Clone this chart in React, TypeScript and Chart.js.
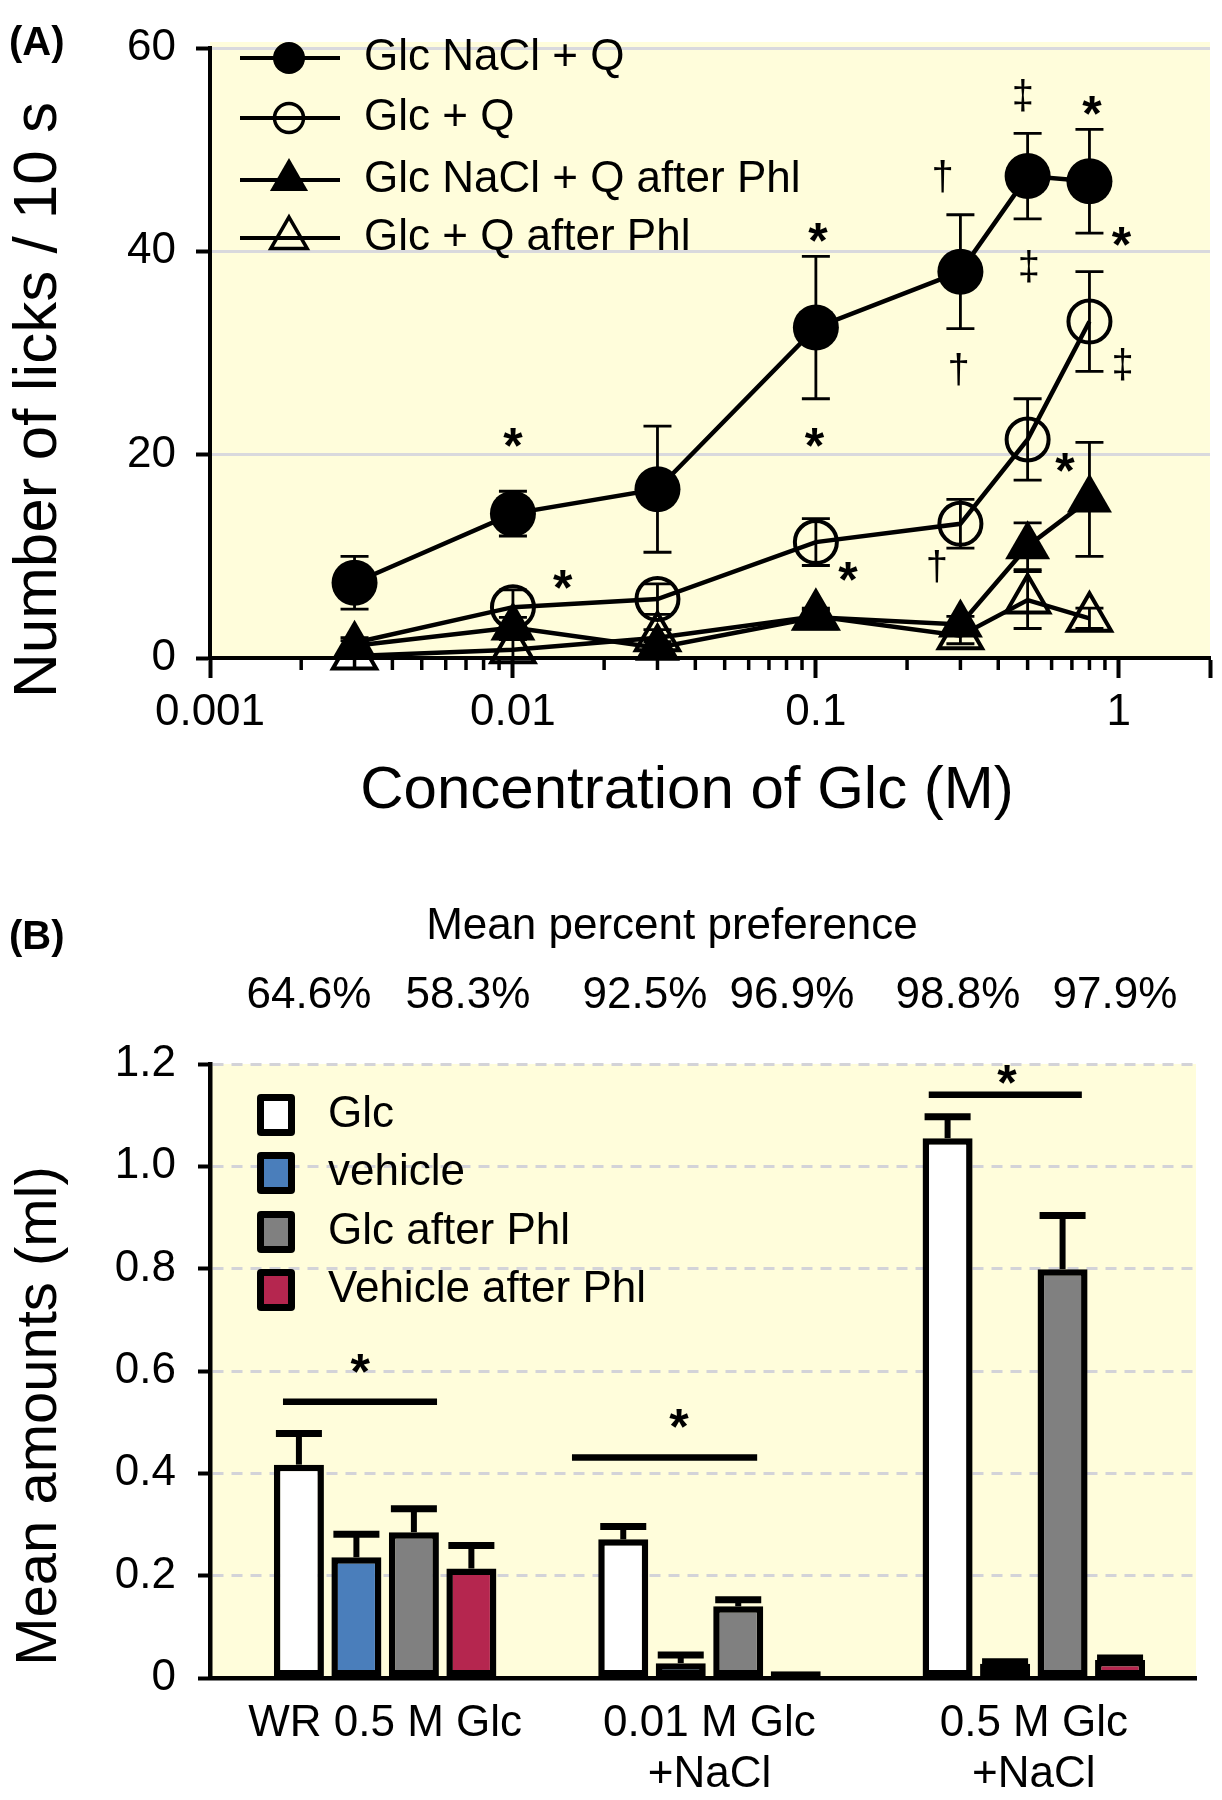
import React, { useEffect, useRef } from 'react';
import { Chart, registerables } from 'chart.js';

Chart.register(...registerables);

const FONT = "'Liberation Sans', Arial, Helvetica, sans-serif";
const YELLOW = '#FFFDDB';

// ---------------- Panel A data ----------------
const concentrations = [0.003, 0.01, 0.03, 0.1, 0.3, 0.5, 0.8];
const glcNaClQ = [7.4, 14.2, 16.6, 32.5, 38.0, 47.4, 46.9];
const glcNaClQErr = [2.6, 2.2, 6.2, 7.0, 5.6, 4.2, 5.1];
const glcQ = [1.5, 5.0, 5.8, 11.4, 13.2, 21.5, 33.1];
const glcQErr = [0.5, 1.7, 1.5, 2.3, 2.4, 4.0, 4.9];
const glcNaClQPhl = [1.2, 3.0, 1.0, 4.0, 3.3, 11.0, 15.6];
const glcNaClQPhlErr = [0.5, 1.0, 0.6, 0.7, 0.8, 2.3, 5.6];
const glcQPhl = [0.2, 0.8, 2.0, 4.1, 2.2, 5.7, 3.9];
const glcQPhlErr = [0.3, 1.0, 0.8, 0.8, 0.8, 2.8, 1.0];
const seriesLabelsA = ['Glc NaCl + Q', 'Glc + Q', 'Glc NaCl + Q after Phl', 'Glc + Q after Phl'];

const xMajorTicksA = [0.001, 0.01, 0.1, 1, 2];
const xTickLabelsA = ['0.001', '0.01', '0.1', '1', ''];
const xMinorTicksA = [
  0.002, 0.003, 0.004, 0.005, 0.006, 0.007, 0.008, 0.009,
  0.02, 0.03, 0.04, 0.05, 0.06, 0.07, 0.08, 0.09,
  0.2, 0.3, 0.4, 0.5, 0.6, 0.7, 0.8, 0.9,
];
const yTicksA = [0, 20, 40, 60];
const yTickLabelsA = ['0', '20', '40', '60'];

const annotationsA = [
  { text: '*', x: 0.01, y: 20.3 },
  { text: '*', x: 0.0146, y: 7.7 },
  { text: '*', x: 0.1016, y: 41.9 },
  { text: '*', x: 0.099, y: 21.7 },
  { text: '*', x: 0.1276, y: 8.5 },
  { text: '\u2020', x: 0.262, y: 47.4 },
  { text: '\u2020', x: 0.296, y: 28.4 },
  { text: '\u2020', x: 0.251, y: 9.0 },
  { text: '\u2021', x: 0.482, y: 55.3 },
  { text: '\u2021', x: 0.505, y: 38.5 },
  { text: '*', x: 0.815, y: 54.3 },
  { text: '*', x: 1.02, y: 41.5 },
  { text: '\u2021', x: 1.03, y: 28.9 },
  { text: '*', x: 0.664, y: 19.2 },
];

// ---------------- Panel B data ----------------
const categoriesB = [['WR 0.5 M Glc'], ['0.01 M Glc', '+NaCl'], ['0.5 M Glc', '+NaCl']];
const seriesLabelsB = ['Glc', 'vehicle', 'Glc after Phl', 'Vehicle after Phl'];
const glcB = [0.417, 0.271, 1.055];
const glcBErr = [0.061, 0.025, 0.042];
const vehicleB = [0.236, 0.029, 0.028];
const vehicleBErr = [0.045, 0.016, 0.004];
const glcPhlB = [0.285, 0.14, 0.799];
const glcPhlBErr = [0.046, 0.013, 0.105];
const vehiclePhlB = [0.214, 0.013, 0.035];
const vehiclePhlBErr = [0.045, 0.0, 0.004];
const percentPreference = ['64.6%', '58.3%', '92.5%', '96.9%', '98.8%', '97.9%'];
const yTicksB = [0, 0.2, 0.4, 0.6, 0.8, 1.0, 1.2];
const yTickLabelsB = ['0', '0.2', '0.4', '0.6', '0.8', '1.0', '1.2'];
const significanceB = [
  { group: 0, from: -0.315, to: 0.16, y: 0.54, starX: -0.077, starY: 0.614 },
  { group: 1, from: -0.424, to: 0.147, y: 0.431, starX: -0.094, starY: 0.507 },
  { group: 2, from: -0.324, to: 0.148, y: 1.14, starX: -0.083, starY: 1.179 },
];

// ---------------- helpers ----------------
function centerGlyph(ctx: any, text: string, x: number, y: number) {
  const m = ctx.measureText(text);
  ctx.textAlign = 'center';
  ctx.textBaseline = 'alphabetic';
  ctx.fillText(text, x, y + (m.actualBoundingBoxAscent - m.actualBoundingBoxDescent) / 2);
}

function markerPath(ctx: any, style: string, x: number, y: number, r: number) {
  ctx.beginPath();
  if (style === 'circle') {
    ctx.arc(x, y, r, 0, Math.PI * 2);
  } else {
    let rad = 0;
    ctx.moveTo(x + Math.sin(rad) * r, y - Math.cos(rad) * r);
    rad += (2 * Math.PI) / 3;
    ctx.lineTo(x + Math.sin(rad) * r, y - Math.cos(rad) * r);
    rad += (2 * Math.PI) / 3;
    ctx.lineTo(x + Math.sin(rad) * r, y - Math.cos(rad) * r);
    ctx.closePath();
  }
}

const seriesA = [
  { label: seriesLabelsA[0], values: glcNaClQ, errors: glcNaClQErr, style: 'circle', filled: true, r: 23, lr: 16, hideFirst: false },
  { label: seriesLabelsA[1], values: glcQ, errors: glcQErr, style: 'circle', filled: false, r: 21, lr: 14.5, hideFirst: true },
  { label: seriesLabelsA[2], values: glcNaClQPhl, errors: glcNaClQPhlErr, style: 'triangle', filled: true, r: 26, lr: 22, hideFirst: false },
  { label: seriesLabelsA[3], values: glcQPhl, errors: glcQPhlErr, style: 'triangle', filled: false, r: 25, lr: 21, hideFirst: false },
];

const seriesB = [
  { label: seriesLabelsB[0], values: glcB, errors: glcBErr, color: '#FFFFFF' },
  { label: seriesLabelsB[1], values: vehicleB, errors: vehicleBErr, color: '#4A7EBB' },
  { label: seriesLabelsB[2], values: glcPhlB, errors: glcPhlBErr, color: '#808080' },
  { label: seriesLabelsB[3], values: vehiclePhlB, errors: vehiclePhlBErr, color: '#B5264F' },
];

function zeroPad(s: any) {
  s.paddingLeft = 0;
  s.paddingRight = 0;
  s.paddingTop = 0;
  s.paddingBottom = 0;
}

function makeChartA(canvas: HTMLCanvasElement) {
  const plugin = {
    id: 'panelA',
    beforeDraw(chart: any) {
      const { ctx, chartArea: a } = chart;
      ctx.save();
      ctx.fillStyle = YELLOW;
      ctx.fillRect(a.left, a.top - 6, a.right - a.left, a.bottom - a.top + 6);
      ctx.restore();
    },
    beforeDatasetsDraw(chart: any) {
      const { ctx } = chart;
      const xs = chart.scales.x;
      const ys = chart.scales.y;
      ctx.save();
      ctx.strokeStyle = '#000';
      ctx.lineWidth = 2.8;
      seriesA.forEach((s) => {
        s.values.forEach((v, i) => {
          const e = s.errors[i];
          if (!e) return;
          const x = xs.getPixelForValue(concentrations[i]);
          const yt = ys.getPixelForValue(v + e);
          const yb = ys.getPixelForValue(Math.max(0, v - e));
          ctx.beginPath();
          ctx.moveTo(x, yt);
          ctx.lineTo(x, yb);
          ctx.moveTo(x - 14, yt);
          ctx.lineTo(x + 14, yt);
          ctx.moveTo(x - 14, yb);
          ctx.lineTo(x + 14, yb);
          ctx.stroke();
        });
      });
      ctx.restore();
    },
    afterDraw(chart: any) {
      const { ctx, chartArea: a } = chart;
      const xs = chart.scales.x;
      const ys = chart.scales.y;
      ctx.save();
      // minor ticks
      ctx.strokeStyle = '#000';
      ctx.lineWidth = 3.5;
      xMinorTicksA.forEach((t) => {
        const x = xs.getPixelForValue(t);
        ctx.beginPath();
        ctx.moveTo(x, a.bottom);
        ctx.lineTo(x, a.bottom + 12);
        ctx.stroke();
      });
      // legend
      const rows = [58, 118, 180, 238];
      seriesA.forEach((s, i) => {
        const y = rows[i];
        ctx.strokeStyle = '#000';
        ctx.lineWidth = 4;
        ctx.beginPath();
        ctx.moveTo(240, y);
        ctx.lineTo(340, y);
        ctx.stroke();
        markerPath(ctx, s.style, 289, y, s.lr);
        if (s.filled) {
          ctx.fillStyle = '#000';
          ctx.fill();
        } else {
          ctx.fillStyle = YELLOW;
          ctx.fill();
          ctx.lineWidth = 3.5;
          ctx.stroke();
          ctx.beginPath();
          ctx.lineWidth = 4;
          ctx.moveTo(289 - s.lr, y);
          ctx.lineTo(289 + s.lr, y);
          ctx.stroke();
        }
        ctx.fillStyle = '#000';
        ctx.font = `44px ${FONT}`;
        ctx.textAlign = 'left';
        ctx.textBaseline = 'middle';
        ctx.fillText(s.label, 364, y);
      });
      // annotations
      annotationsA.forEach((an) => {
        ctx.fillStyle = '#000';
        ctx.font = an.text === '*' ? `bold 50px ${FONT}` : `40px ${FONT}`;
        centerGlyph(ctx, an.text, xs.getPixelForValue(an.x), ys.getPixelForValue(an.y));
      });
      // panel label
      ctx.font = `bold 40px ${FONT}`;
      ctx.textAlign = 'left';
      ctx.textBaseline = 'middle';
      ctx.fillText('(A)', 9, 44);
      // axis titles
      ctx.font = `60px ${FONT}`;
      ctx.textAlign = 'center';
      ctx.textBaseline = 'alphabetic';
      ctx.fillText('Concentration of Glc (M)', 687, 808);
      ctx.font = `62px ${FONT}`;
      ctx.save();
      ctx.translate(56, 400);
      ctx.rotate(-Math.PI / 2);
      ctx.fillText('Number of licks / 10 s', 0, 0);
      ctx.restore();
      ctx.restore();
    },
  };

  const datasets = seriesA.map((s) => ({
    label: s.label,
    data: concentrations.map((c, i) => ({ x: c, y: s.values[i] })),
    borderColor: '#000',
    borderWidth: 4.5,
    tension: 0,
    fill: false,
    clip: false,
    pointStyle: s.style,
    pointRadius: concentrations.map((c, i) => (s.hideFirst && i === 0 ? 0 : s.r)),
    pointBackgroundColor: s.filled ? '#000' : 'rgba(0,0,0,0)',
    pointBorderColor: '#000',
    pointBorderWidth: s.filled ? 0 : 4,
  }));

  return new Chart(canvas, {
    type: 'line',
    data: { datasets } as any,
    plugins: [plugin as any],
    options: {
      animation: false,
      responsive: false,
      devicePixelRatio: 1,
      events: [],
      layout: { autoPadding: false, padding: { left: 0, right: 12, top: 48, bottom: 82 } },
      plugins: { legend: { display: false }, tooltip: { enabled: false } },
      scales: {
        x: {
          type: 'logarithmic',
          min: 0.001,
          max: 2,
          afterBuildTicks: (s: any) => {
            s.ticks = xMajorTicksA.map((v) => ({ value: v }));
          },
          afterFit: (s: any) => {
            s.height = 100;
            zeroPad(s);
          },
          ticks: {
            callback: (v: any) => {
              const i = xMajorTicksA.findIndex((t) => Math.abs(t - v) < t * 1e-6);
              return i >= 0 ? xTickLabelsA[i] : '';
            },
            font: { family: FONT, size: 44 },
            color: '#000',
            padding: 8,
            autoSkip: false,
            maxRotation: 0,
            minRotation: 0,
          },
          grid: { drawOnChartArea: false, drawTicks: true, tickLength: 20, tickWidth: 4, tickColor: '#000' },
          border: { display: true, color: '#000', width: 4 },
        },
        y: {
          type: 'linear',
          min: 0,
          max: 60,
          afterBuildTicks: (s: any) => {
            s.ticks = yTicksA.map((v) => ({ value: v }));
          },
          afterFit: (s: any) => {
            s.width = 210;
            zeroPad(s);
          },
          ticks: {
            callback: (v: any, i: number) => yTickLabelsA[i],
            font: { family: FONT, size: 44 },
            color: '#000',
            padding: 20,
          },
          grid: {
            color: (c: any) => (c.tick && c.tick.value === 0 ? 'rgba(0,0,0,0)' : '#D9D9DD'),
            lineWidth: 3,
            drawTicks: true,
            tickLength: 14,
            tickWidth: 4,
            tickColor: '#000',
          },
          border: { display: true, color: '#000', width: 4 },
        },
      },
    } as any,
  });
}

function makeChartB(canvas: HTMLCanvasElement) {
  const plugin = {
    id: 'panelB',
    beforeDraw(chart: any) {
      const { ctx, chartArea: a } = chart;
      ctx.save();
      ctx.fillStyle = YELLOW;
      ctx.fillRect(a.left, a.top, a.right - a.left, a.bottom - a.top);
      ctx.restore();
    },
    beforeDatasetsDraw(chart: any) {
      const { ctx } = chart;
      const ys = chart.scales.y;
      ctx.save();
      ctx.strokeStyle = '#000';
      seriesB.forEach((s, di) => {
        const meta = chart.getDatasetMeta(di);
        s.values.forEach((v, i) => {
          const e = s.errors[i];
          if (!e) return;
          const el = meta.data[i];
          const yt = ys.getPixelForValue(v + e);
          ctx.lineWidth = 6;
          ctx.beginPath();
          ctx.moveTo(el.x, el.y);
          ctx.lineTo(el.x, yt);
          ctx.stroke();
          ctx.lineWidth = 7;
          ctx.beginPath();
          ctx.moveTo(el.x - el.width * 0.46, yt);
          ctx.lineTo(el.x + el.width * 0.46, yt);
          ctx.stroke();
        });
      });
      ctx.restore();
    },
    afterDraw(chart: any) {
      const { ctx } = chart;
      const xs = chart.scales.x;
      const ys = chart.scales.y;
      ctx.save();
      // significance bars
      significanceB.forEach((sg) => {
        ctx.strokeStyle = '#000';
        ctx.lineWidth = 6.5;
        const y = ys.getPixelForValue(sg.y);
        ctx.beginPath();
        ctx.moveTo(xs.getPixelForValue(sg.group + sg.from), y);
        ctx.lineTo(xs.getPixelForValue(sg.group + sg.to), y);
        ctx.stroke();
        ctx.fillStyle = '#000';
        ctx.font = `bold 50px ${FONT}`;
        centerGlyph(ctx, '*', xs.getPixelForValue(sg.group + sg.starX), ys.getPixelForValue(sg.starY));
      });
      // legend
      const rows = [285, 343, 402, 460];
      seriesB.forEach((s, i) => {
        const y = rows[i];
        ctx.fillStyle = '#000';
        ctx.beginPath();
        if (ctx.roundRect) ctx.roundRect(257, y - 21, 38, 42, 4);
        else ctx.rect(257, y - 21, 38, 42);
        ctx.fill();
        ctx.fillStyle = s.color;
        ctx.fillRect(264, y - 14, 24, 28);
        ctx.fillStyle = '#000';
        ctx.font = `44px ${FONT}`;
        ctx.textAlign = 'left';
        ctx.textBaseline = 'middle';
        ctx.fillText(s.label, 328, y);
      });
      // header texts
      ctx.fillStyle = '#000';
      ctx.font = `bold 40px ${FONT}`;
      ctx.textAlign = 'left';
      ctx.textBaseline = 'middle';
      ctx.fillText('(B)', 9, 108);
      ctx.font = `44px ${FONT}`;
      ctx.textAlign = 'center';
      ctx.textBaseline = 'alphabetic';
      ctx.fillText('Mean percent preference', 672, 109);
      const px = [309, 468, 645, 792, 958, 1115];
      percentPreference.forEach((p, i) => ctx.fillText(p, px[i], 178));
      // y title
      ctx.font = `58px ${FONT}`;
      ctx.save();
      ctx.translate(56, 586);
      ctx.rotate(-Math.PI / 2);
      ctx.fillText('Mean amounts (ml)', 0, 0);
      ctx.restore();
      ctx.restore();
    },
  };

  const datasets = seriesB.map((s) => ({
    label: s.label,
    data: s.values.map((v, i) => ({ x: i, y: v })),
    backgroundColor: s.color,
    borderColor: '#000',
    borderWidth: 6.5,
    borderSkipped: false,
    categoryPercentage: 0.709,
    barPercentage: 0.87,
  }));

  return new Chart(canvas, {
    type: 'bar',
    data: { datasets } as any,
    plugins: [plugin as any],
    options: {
      animation: false,
      responsive: false,
      devicePixelRatio: 1,
      events: [],
      layout: { autoPadding: false, padding: { left: 0, right: 26, top: 234, bottom: 0 } },
      plugins: { legend: { display: false }, tooltip: { enabled: false } },
      scales: {
        x: {
          type: 'linear',
          min: -0.54,
          max: 2.5,
          offset: false,
          afterBuildTicks: (s: any) => {
            s.ticks = categoriesB.map((c, i) => ({ value: i }));
          },
          afterFit: (s: any) => {
            s.height = 122;
            zeroPad(s);
          },
          ticks: {
            callback: (v: any) => categoriesB[Math.round(v)] || '',
            font: { family: FONT, size: 44, lineHeight: 1.16 },
            color: '#000',
            padding: 20,
            autoSkip: false,
            maxRotation: 0,
            minRotation: 0,
          },
          grid: { display: false, drawTicks: false, offset: false },
          border: { display: true, color: '#000', width: 4.5 },
        },
        y: {
          type: 'linear',
          min: 0,
          max: 1.2,
          afterBuildTicks: (s: any) => {
            s.ticks = yTicksB.map((v) => ({ value: v }));
          },
          afterFit: (s: any) => {
            s.width = 210;
            zeroPad(s);
          },
          ticks: {
            callback: (v: any, i: number) => yTickLabelsB[i],
            font: { family: FONT, size: 44 },
            color: '#000',
            padding: 22,
          },
          grid: {
            color: (c: any) => (c.tick && c.tick.value === 0 ? 'rgba(0,0,0,0)' : '#D3D3D8'),
            lineWidth: 3,
            drawTicks: true,
            tickLength: 12,
            tickWidth: 4,
            tickColor: '#000',
          },
          border: { display: true, color: '#000', width: 4.5, dash: [11, 8] },
        },
      },
    } as any,
  });
}

export default function App() {
  const refA = useRef<HTMLCanvasElement>(null);
  const refB = useRef<HTMLCanvasElement>(null);
  useEffect(() => {
    const a = makeChartA(refA.current as HTMLCanvasElement);
    const b = makeChartB(refB.current as HTMLCanvasElement);
    return () => {
      a.destroy();
      b.destroy();
    };
  }, []);
  return (
    <div style={{ position: 'absolute', left: 0, top: 0, width: 1222, height: 1800, background: '#fff', overflow: 'hidden' }}>
      <canvas ref={refA} width={1222} height={840} style={{ position: 'absolute', left: 0, top: 0 }} />
      <canvas ref={refB} width={1222} height={970} style={{ position: 'absolute', left: 0, top: 830 }} />
    </div>
  );
}
